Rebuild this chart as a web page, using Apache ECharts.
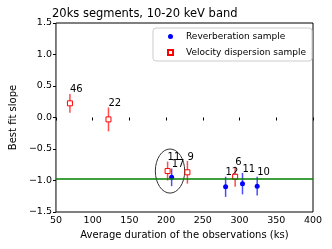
<!DOCTYPE html>
<html><head><meta charset="utf-8">
<script src="https://cdn.jsdelivr.net/npm/echarts@6/dist/echarts.min.js"></script>
<style>html,body{margin:0;padding:0;background:#fff}#c{width:332px;height:249px}</style>
</head><body><div id="c"></div>
<script>
var revX = [207.5, 281, 304, 324];
var revY = [-0.95, -1.10, -1.05, -1.09];
var revErr = [0.14, 0.16, 0.17, 0.15];
var revN = ['17', '12', '11', '10'];
var velX = [69, 121.5, 202, 229, 294];
var velY = [0.225, -0.03, -0.85, -0.87, -0.94];
var velErr = [0.15, 0.19, 0.15, 0.18, 0.16];
var velN = ['46', '22', '11', '9', '6'];
var refLine = -0.98;
var ellipse = [[205.3, -0.85, 20, 0.35]];
var xTicks = [50, 400, 50];
var yTicks = [-1.5, 1.5, 0.5];

var FONT = 'DejaVu Sans';
function errData(xs, ys, es, ns) {
  return xs.map(function (x, i) { return [x, ys[i], es[i], ns[i]]; });
}
function errRender(color) {
  return function (params, api) {
    var x = api.value(0), y = api.value(1), e = api.value(2);
    var top = api.coord([x, y + e]);
    var bot = api.coord([x, y - e]);
    return {
      type: 'group',
      children: [
        { type: 'line', shape: { x1: top[0], y1: top[1], x2: bot[0], y2: bot[1] },
          style: { stroke: color, lineWidth: 1.5 } },
        { type: 'text', x: top[0], y: top[1] + 1,
          style: { text: api.value(3) + '', fill: '#000', font: '10px ' + FONT,
                   align: 'left', verticalAlign: 'bottom' } }
      ]
    };
  };
}
var chart = echarts.init(document.getElementById('c'), null, { renderer: 'canvas' });
chart.setOption({
  animation: false,
  title: { text: '20ks segments, 10-20 keV band', left: 47, top: 3,
    textStyle: { fontFamily: FONT, fontSize: 11.5, fontWeight: 'normal', color: '#000' } },
  grid: { left: 50, right: 19, top: 23, bottom: 37, show: true, borderColor: '#000', borderWidth: 1 },
  legend: {
    orient: 'vertical', right: 20, top: 28, itemWidth: 5, itemHeight: 5, itemGap: 7,
    borderColor: '#ccc', borderWidth: 1, borderRadius: 3, padding: [4, 6, 4, 14],
    textStyle: { fontFamily: FONT, fontSize: 9, color: '#000', padding: [0, 0, 0, 8] },
    data: ['Reverberation sample', 'Velocity dispersion sample']
  },
  xAxis: {
    type: 'value', min: xTicks[0], max: xTicks[1], interval: xTicks[2],
    name: 'Average duration of the observations (ks)', nameLocation: 'middle', nameGap: 18,
    nameTextStyle: { fontFamily: FONT, fontSize: 10, color: '#000' },
    axisLine: { show: false }, splitLine: { show: false },
    axisTick: { show: true, length: 3, lineStyle: { color: '#000' } },
    axisLabel: { fontFamily: FONT, fontSize: 9.5, color: '#000', margin: 4 }
  },
  yAxis: {
    type: 'value', min: yTicks[0], max: yTicks[1], interval: yTicks[2],
    name: 'Best fit slope', nameLocation: 'middle', nameGap: 33,
    nameTextStyle: { fontFamily: FONT, fontSize: 10, color: '#000' },
    axisLine: { show: false }, splitLine: { show: false },
    axisTick: { show: true, length: 3, lineStyle: { color: '#000' } },
    axisLabel: { fontFamily: FONT, fontSize: 9.5, color: '#000', margin: 4,
      formatter: function (v) { return v.toFixed(1).replace('-', '\u2212'); } }
  },
  series: [
    { type: 'custom', name: 'velErr', renderItem: errRender('rgba(255,0,0,0.7)'),
      data: errData(velX, velY, velErr, velN), z: 2, silent: true },
    { type: 'custom', name: 'revErr', renderItem: errRender('rgba(0,0,255,0.7)'),
      data: errData(revX, revY, revErr, revN), z: 2, silent: true },
    { type: 'custom', name: 'ell', z: 1, silent: true, data: ellipse,
      renderItem: function (params, api) {
        var c = api.coord([api.value(0), api.value(1)]);
        var s = api.size([api.value(2), api.value(3)]);
        return { type: 'ellipse', shape: { cx: c[0], cy: c[1], rx: s[0], ry: s[1] },
          style: { fill: 'none', stroke: '#333', lineWidth: 1 } };
      } },
    { type: 'scatter', name: 'Velocity dispersion sample', symbol: 'rect', symbolSize: 5, z: 4,
      itemStyle: { color: '#fff', borderColor: '#f00', borderWidth: 1, opacity: 1 },
      data: velX.map(function (x, i) { return [x, velY[i]]; }),
      markLine: { silent: true, symbol: 'none', label: { show: false },
        lineStyle: { color: '#008000', width: 1.5, type: 'solid' },
        data: [{ yAxis: refLine }] } },
    { type: 'scatter', name: 'Reverberation sample', symbol: 'circle', symbolSize: 5, z: 4,
      itemStyle: { color: '#0000ff', opacity: 1 },
      data: revX.map(function (x, i) { return [x, revY[i]]; }) }
  ]
});
</script></body></html>
